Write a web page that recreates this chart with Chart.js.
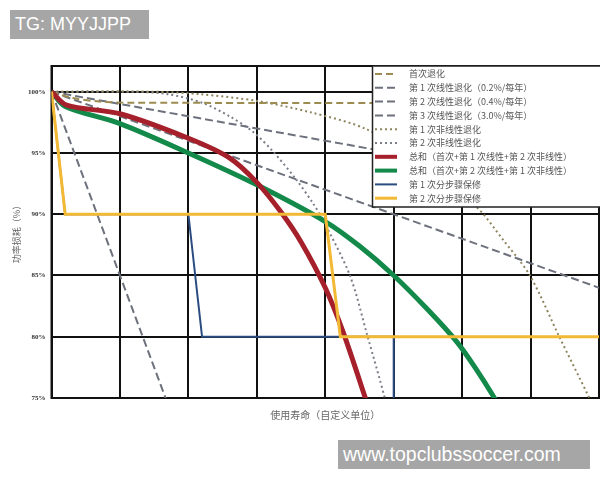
<!DOCTYPE html>
<html>
<head>
<meta charset="utf-8">
<script src="https://cdn.jsdelivr.net/npm/chart.js@4.4.0/dist/chart.umd.min.js"></script>
<style>
  body { margin: 0; background: #fff; }
  #wrap { position: relative; width: 600px; height: 480px; }
  .tag {
    position: absolute;
    background: #a6a6a6;
    color: #fff;
    font-family: "Liberation Sans", Arial, sans-serif;
    height: 29px;
    line-height: 29px;
    padding-left: 5px;
    box-sizing: border-box;
  }
</style>
</head>
<body>
<div id="wrap">
  <canvas id="loss-chart"></canvas>
  <div class="tag" style="left:10px;top:10px;width:139px;font-size:18px;">TG: MYYJJPP</div>
  <div class="tag" style="left:338px;top:440px;width:252px;font-size:19.5px;">www.topclubssoccer.com</div>
</div>
<script>
// series (x = life units, y = % power)
const initX = [0, 0.3, 0.7, 1.2, 8];
const initY = [100, 99.5, 99.2, 99.1, 99.1];

const lin1X = [0, 8];
const lin1Y = [100, 92];
const lin2X = [0, 8];
const lin2Y = [100, 84];
const lin3X = [0, 2];
const lin3Y = [100, 70];

const non1X = [0, 1.5, 2.17, 3.0, 3.8, 4.6, 5.4, 6.21, 6.6, 6.99, 7.42, 7.86, 8];
const non1Y = [100, 100, 99.8, 99.25, 98.3, 96.95, 94.2, 90.6, 87.9, 85, 80, 75, 73.4];
const non2X = [0, 1.2, 1.7, 2.2, 2.6, 2.95, 3.24, 3.58, 3.82, 3.97, 4.36, 4.62, 4.87, 5.0];
const non2Y = [100, 100, 99.8, 99.1, 98.0, 96.7, 95.1, 92.8, 90.9, 89.5, 85, 80, 75, 72];

const redX = [0, 0.22, 1.0, 2.0, 2.6, 3.0, 3.35, 3.65, 4.0, 4.26, 4.58, 4.7];
const redY = [100, 98.9, 98.2, 96.2, 94.6, 92.6, 90.2, 87.7, 84.0, 80.4, 75.1, 73];
const greenX = [0, 0.2, 1.0, 2.0, 3.0, 4.0, 4.5, 5.0, 5.5, 5.92, 6.2, 6.45, 6.6];
const greenY = [100, 98.8, 97.4, 95.0, 92.4, 89.4, 87.4, 85.0, 82.2, 79.6, 77.4, 75.2, 73.7];

const blueX = [0, 0.2, 2.0, 2.2, 5.0, 5.0];
const blueY = [100, 90, 90, 80, 80, 70];
const yellowX = [0, 0.2, 4.0, 4.22, 8];
const yellowY = [100, 90, 90, 80, 80];

const yTicks = [75, 80, 85, 90, 95, 100];

const labels = [
  "首次退化",
  "第 1 次线性退化（0.2%/每年）",
  "第 2 次线性退化（0.4%/每年）",
  "第 3 次线性退化（3.0%/每年）",
  "第 1 次非线性退化",
  "第 2 次非线性退化",
  "总和（首次+第 1 次线性+第 2 次非线性）",
  "总和（首次+第 2 次线性+第 1 次非线性）",
  "第 1 次分步骤保修",
  "第 2 次分步骤保修",
];

const pts = (xs, ys) => xs.map((x, i) => ({ x: x, y: ys[i] }));

const line = (label, xs, ys, color, width, dash, order, tension) => ({
  label: label,
  data: pts(xs, ys),
  borderColor: color,
  backgroundColor: color,
  borderWidth: width,
  borderDash: dash,
  order: order,
  pointRadius: 0,
  fill: false,
  tension: tension,
});

const datasets = [
  line(labels[0], initX, initY, "#9c8c50", 2, [7, 4], 10, 0.3),
  line(labels[1], lin1X, lin1Y, "#6d717c", 2, [8, 4], 10, 0),
  line(labels[2], lin2X, lin2Y, "#6d717c", 2, [8, 4], 10, 0),
  line(labels[3], lin3X, lin3Y, "#6d717c", 2, [8, 4], 10, 0),
  line(labels[4], non1X, non1Y, "#8f8660", 2, [2, 3], 10, 0.3),
  line(labels[5], non2X, non2Y, "#7a7e88", 2, [2, 3], 10, 0.3),
  line(labels[6], redX, redY, "#a5202a", 5, [], 3, 0.3),
  line(labels[7], greenX, greenY, "#13894a", 5, [], 4, 0.3),
  line(labels[8], blueX, blueY, "#2a4c80", 2, [], 5, 0),
  line(labels[9], yellowX, yellowY, "#f2b935", 3, [], 2, 0),
];

// black frame round the plot
const framePlugin = {
  id: "frame",
  beforeDatasetsDraw(chart) {
    const { ctx, chartArea: a } = chart;
    ctx.save();
    ctx.strokeStyle = "#111";
    ctx.lineWidth = 2;
    ctx.strokeRect(a.left, a.top, a.right - a.left, a.bottom - a.top);
    ctx.restore();
  },
};

// legend box sitting in the top right of the plot
const boxLegend = {
  id: "boxLegend",
  afterDatasetsDraw(chart) {
    const ctx = chart.ctx;
    const top = chart.chartArea.top;
    ctx.save();
    ctx.fillStyle = "#fff";
    ctx.fillRect(372.5, top, 240, 141);
    ctx.strokeStyle = "#222";
    ctx.lineWidth = 1.5;
    ctx.strokeRect(372.5, top, 240, 141);
    ctx.font = '9px "Noto Sans CJK SC"';
    ctx.textBaseline = "middle";
    chart.data.datasets.forEach((ds, i) => {
      const y = top + 8 + i * 13.8;
      ctx.beginPath();
      ctx.setLineDash(ds.borderDash);
      ctx.strokeStyle = ds.borderColor;
      ctx.lineWidth = Math.min(ds.borderWidth, 4);
      ctx.moveTo(375, y);
      ctx.lineTo(397, y);
      ctx.stroke();
      ctx.setLineDash([]);
      ctx.fillStyle = "#555";
      ctx.fillText(ds.label, 409, y);
    });
    ctx.restore();
  },
};

new Chart(document.getElementById("loss-chart"), {
  type: "line",
  data: { datasets: datasets },
  options: {
    responsive: true,
    maintainAspectRatio: false,
    animation: false,
    layout: { padding: { top: 66, right: 1, bottom: 59, left: 0 } },
    plugins: {
      legend: { display: false },
      tooltip: { enabled: false },
    },
    scales: {
      x: {
        type: "linear",
        min: 0,
        max: 8,
        ticks: { display: false, stepSize: 1 },
        grid: { color: "#111", lineWidth: 2, drawTicks: false },
        border: { display: true, color: "#111", width: 2 },
        title: {
          display: true,
          text: "使用寿命（自定义单位）",
          color: "#666",
          font: { family: "Noto Sans CJK SC", size: 10 },
          padding: { top: 9, bottom: 0 },
        },
        afterFit(scale) { scale.height = 23; },
      },
      y: {
        type: "linear",
        min: 75,
        max: 102.1,
        afterBuildTicks(scale) {
          scale.ticks = yTicks.map((v) => ({ value: v }));
        },
        ticks: {
          callback: (v) => v + "%",
          color: "#333",
          padding: 6,
          font: { family: "Liberation Serif", size: 7, weight: "bold" },
        },
        grid: { color: "#111", lineWidth: 2, drawTicks: false },
        border: { display: true, color: "#111", width: 2 },
        title: {
          display: true,
          text: "功率损耗（%）",
          color: "#666",
          font: { family: "Noto Sans CJK SC", size: 9 },
          padding: { top: 11, bottom: 0 },
        },
        afterFit(scale) { scale.width = 51.5; },
      },
    },
  },
  plugins: [framePlugin, boxLegend],
});
</script>
</body>
</html>
